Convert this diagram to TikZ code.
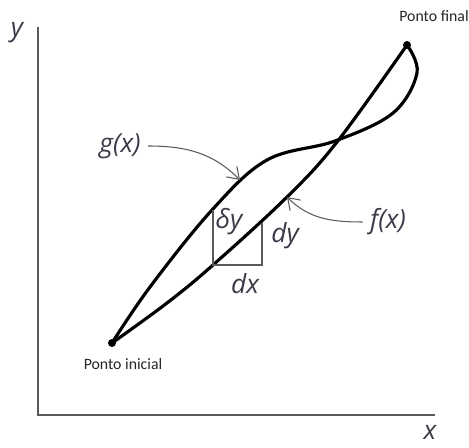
\documentclass[tikz,border=0pt]{standalone}
\usepackage{fontspec}
\setmainfont{Carlito}
\newfontfamily\lblfont{Open Sans}
\usetikzlibrary{arrows.meta}
\definecolor{lblcol}{HTML}{3A3A48}
\definecolor{axcol}{HTML}{5A5A5A}

\begin{document}
\begin{tikzpicture}[x=0.02cm,y=-0.02cm]
    \tikzset{
      curve/.style={line width=1.8pt, line cap=round, line join=round},
      pointer/.style={draw=axcol, line width=0.6pt, -{Straight Barb[length=2.2mm,width=3mm]}},
      lbl/.style={font=\lblfont\itshape\fontsize{15}{17}\selectfont, text=lblcol, inner sep=1pt},
      ponto/.style={font=\fontsize{9}{10}\selectfont, text=black!85, inner sep=1pt}
    }
    \useasboundingbox (0,0) rectangle (469,448);
    \coordinate (o) at (38,415);
    \coordinate (ytop) at (38,27);
    \coordinate (xend) at (435,415);
    \coordinate (p1) at (112,343);
    \coordinate (p2) at (407,45);
    \coordinate (dtop) at (213,210);
    \coordinate (dbot) at (213,265);
    \coordinate (dcorner) at (262,265);
    \coordinate (dfy) at (262,223);
    \coordinate (gtip) at (240,180);
    \coordinate (ftip) at (287,197);
    % axes
    \draw[axcol, line width=0.8pt] (ytop) -- (o) -- (xend);
    \node[lbl] (ylbl) at (17,33) {y};
    \node[lbl] (xlbl) at (430,432) {x};
    % the two curves
    \draw[curve] plot[smooth, tension=0.6] coordinates {(112,343) (167,303) (213,265) (287,197) (337,142) (407,45)};
    \draw[curve] plot[smooth, tension=0.6] coordinates {(112,343) (150,287) (212,210) (267,160) (335,141) (393,113) (417,73) (407,45)};
    % small triangle
    \draw[axcol, line width=0.8pt] (dtop) -- (dbot) -- (dcorner) -- (dfy);
    \node[lbl] (dely) at (229,222) {δy};
    \node[lbl] (dy) at (285,236) {dy};
    \node[lbl] (dx) at (245,284) {dx};
    % end points
    \fill (p1) circle (0.08cm);
    \fill (p2) circle (0.08cm);
    \node[ponto] (ini) at (123,364) {Ponto inicial};
    \node[ponto] (fin) at (434,16) {Ponto final};
    % curve names
    \node[lbl] (glbl) at (120,146) {g(x)};
    \node[lbl] (flbl) at (388,222) {f(x)};
    \draw[pointer] ([xshift=3pt]glbl.east) to[out=0, in=135] (gtip);
    \draw[pointer] ([xshift=-3pt]flbl.west) to[out=180, in=-45] (ftip);
\end{tikzpicture}
\end{document}
